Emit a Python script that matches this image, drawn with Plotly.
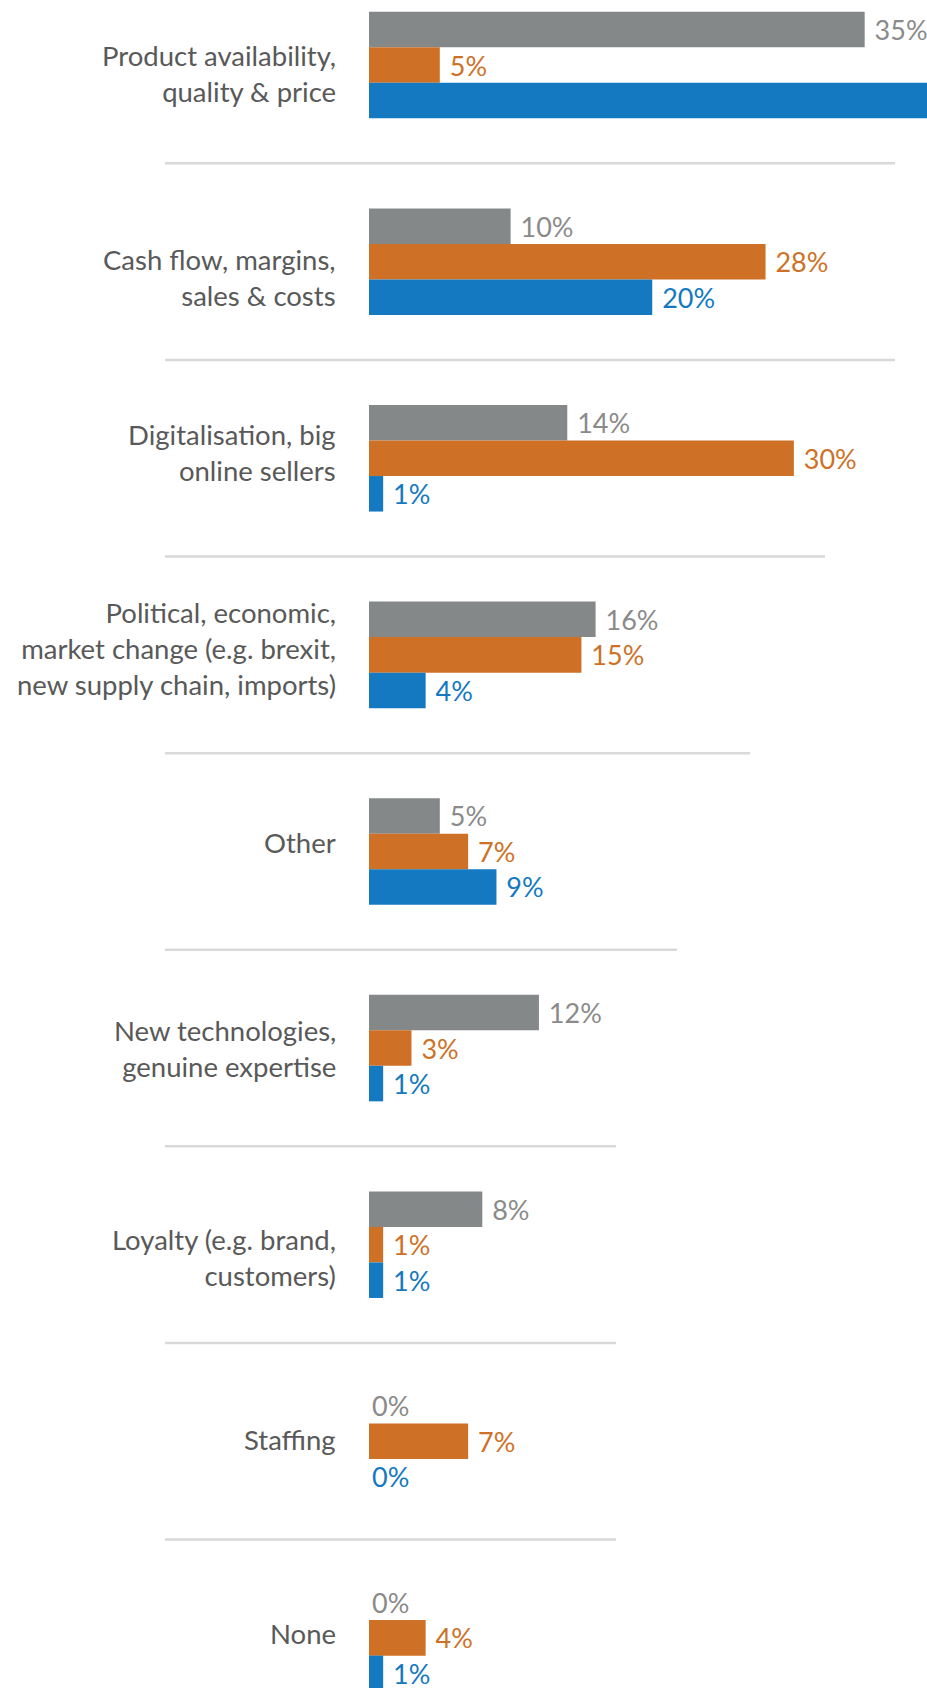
import plotly.graph_objects as go

# Categories, top to bottom
categories = [
    "Product availability,<br>quality & price",
    "Cash flow, margins,<br>sales & costs",
    "Digitalisation, big<br>online sellers",
    "Political, economic,<br>market change (e.g. brexit,<br>new supply chain, imports)",
    "Other",
    "New technologies,<br>genuine expertise",
    "Loyalty (e.g. brand,<br>customers)",
    "Staffing",
    "None",
]

# Share of responses per series (%)
series_gray = [35, 10, 14, 16, 5, 12, 8, 0, 0]
series_orange = [5, 28, 30, 15, 7, 3, 1, 7, 4]
series_blue = [63, 20, 1, 4, 9, 1, 1, 0, 1]

# Bar / text colours
GRAY, GRAY_TXT = "#858889", "#8a8a8a"
ORANGE, ORANGE_TXT = "#ce7127", "#ce7127"
BLUE, BLUE_TXT = "#1479c0", "#1479c0"

FONT = "Lato"
CAT_SIZE = 27.5
VAL_SIZE = 27

W, H = 927, 1688
PLOT_LEFT = 369  # px, left edge of the bars
X_MAX = 39.4

# vertical nudge of each category label, px (positive = down)
label_nudge = [8, 16, -6, -6, -9, 0, 13, -2, -4]


def value_labels(vals):
    out = []
    for v in vals:
        if v > X_MAX:
            out.append("")  # runs off the chart, label not visible
        elif v == 0:
            out.append(f"{v}%")
        else:
            out.append(f" {v}%")
    return out


fig = go.Figure()
for vals, col, tcol in [
    (series_gray, GRAY, GRAY_TXT),
    (series_orange, ORANGE, ORANGE_TXT),
    (series_blue, BLUE, BLUE_TXT),
]:
    fig.add_trace(go.Bar(
        y=categories,
        x=vals,
        orientation="h",
        marker=dict(color=col, line=dict(width=0)),
        text=value_labels(vals),
        textposition="outside",
        textfont=dict(family=FONT, size=VAL_SIZE, color=tcol),
        cliponaxis=True,
        hoverinfo="skip",
    ))

# Category labels, right-aligned left of the bars
for cat, nudge in zip(categories, label_nudge):
    fig.add_annotation(
        xref="paper", yref="y",
        x=0, y=cat,
        xanchor="right", yanchor="middle",
        xshift=-31, yshift=-nudge,
        text=cat, align="right", showarrow=False,
        font=dict(family=FONT, size=CAT_SIZE, color="#595959"),
    )

# Light separators between category groups (right end in px)
sep_ends_px = [895, 895, 825, 750, 677, 616, 616, 616]
sep_start_px = 165
plot_w = W - PLOT_LEFT
for i, end_px in enumerate(sep_ends_px):
    fig.add_shape(
        type="line",
        xref="paper", yref="y",
        x0=(sep_start_px - PLOT_LEFT) / plot_w,
        x1=(end_px - PLOT_LEFT) / plot_w,
        y0=i + 0.5, y1=i + 0.5,
        line=dict(color="#d9d9d9", width=2.5),
        layer="below",
    )

fig.update_layout(
    width=W, height=H,
    margin=dict(l=PLOT_LEFT, r=0, t=0, b=0),
    paper_bgcolor="white",
    plot_bgcolor="white",
    barmode="group",
    bargap=0.458,
    bargroupgap=0,
    showlegend=False,
    xaxis=dict(
        range=[0, X_MAX],
        visible=False,
        showgrid=False,
        zeroline=False,
    ),
    yaxis=dict(
        type="category",
        range=[8.255, -0.331],
        showgrid=False,
        zeroline=False,
        showline=False,
        showticklabels=False,
        ticks="",
    ),
)

fig.write_html("out.html")
